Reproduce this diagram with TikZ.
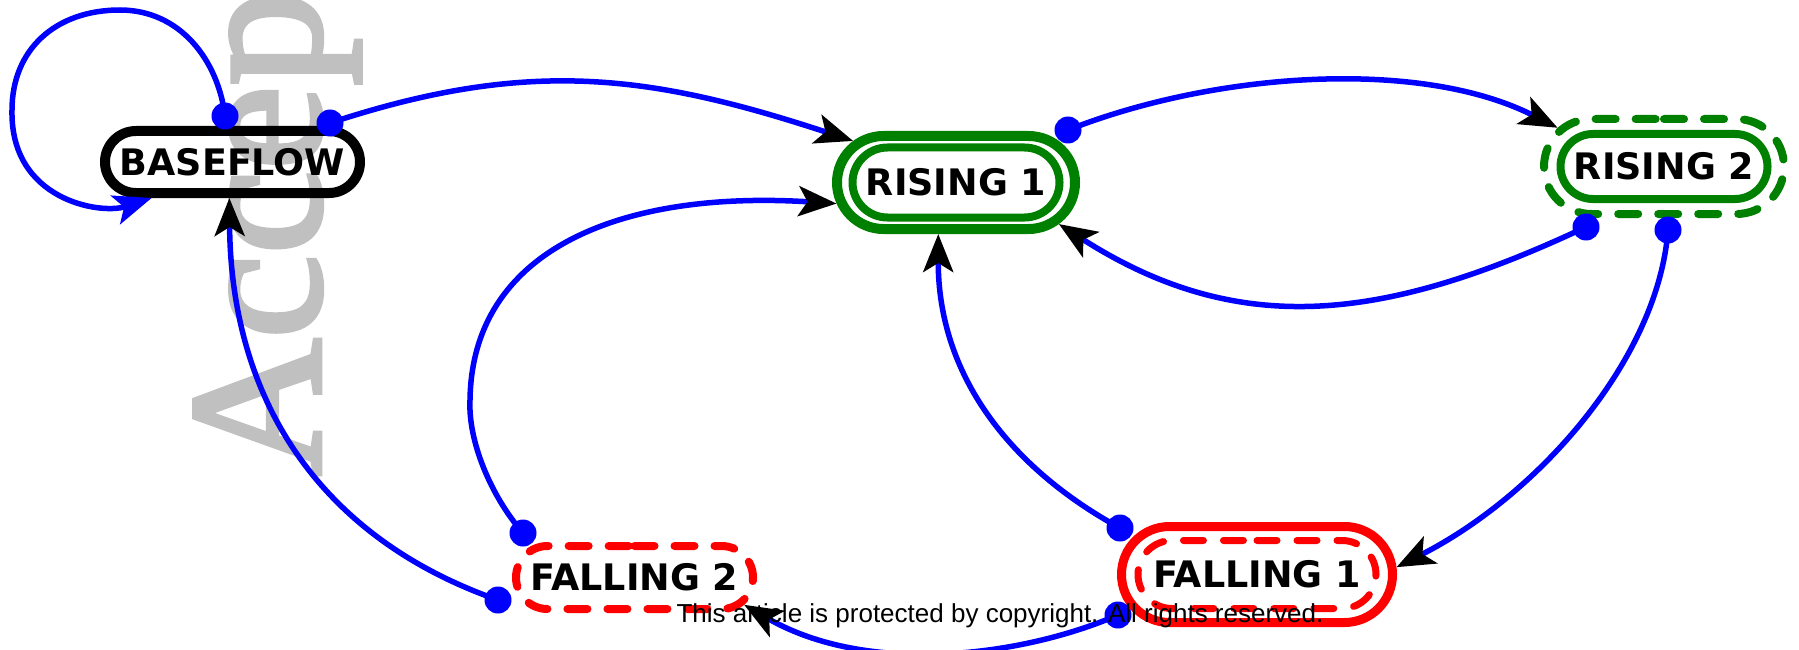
\documentclass[tikz,border=0pt]{standalone}
\usepackage{fontspec}
\usetikzlibrary{shapes.misc,arrows.meta}
\newfontfamily\statefont{DejaVu Sans}
\newfontfamily\notefont{Liberation Sans}
\newfontfamily\markfont[FakeBold=2.5]{Liberation Serif}
\definecolor{stategreen}{RGB}{0,128,0}
\definecolor{markgray}{RGB}{192,192,192}
\begin{document}
\begin{tikzpicture}[x=1pt,y=-1pt,
  state/.style={rounded rectangle, inner sep=0pt,
    font=\statefont\bfseries\fontsize{36.5}{40}\selectfont,
    text height=26.5pt, text depth=0pt},
  ring/.style={rounded rectangle, inner sep=0pt},
  dashring/.style={dash pattern=on 20pt off 20pt, line cap=round},
  tailpt/.style={circle, fill=blue, inner sep=0pt, minimum size=27pt},
  flow/.style={draw=blue, line width=5.5pt,
    -{Stealth[length=38pt,width=30pt,inset=9pt,color=black]}},
  selfflow/.style={draw=blue, line width=5.5pt,
    -{Stealth[length=38pt,width=30pt,inset=9pt]}},
]
\useasboundingbox (0,0) rectangle (1799,650);
\fill[white] (0,0) rectangle (1799,650);
\clip (0,0) rectangle (1799,650);

% watermark behind everything
\node[font=\markfont\fontsize{190}{190}\selectfont, text=markgray,
  rotate=90, anchor=base west, inner sep=0pt] (mark) at (320,476) {Accep};

% states
\node[state, draw, line width=10pt, minimum width=255pt, minimum height=62pt]
  (base) at (232.5,162) {BASEFLOW};

\node[ring, draw=stategreen, line width=10pt, minimum width=238pt, minimum height=93pt]
  (rise1o) at (956,182.5) {};
\node[state, draw=stategreen, line width=8pt, minimum width=207pt, minimum height=70pt]
  (rise1) at (956,182.5) {RISING 1};

\node[ring, dashring, draw=stategreen, line width=8pt, minimum width=240pt, minimum height=95pt]
  (rise2o) at (1664,166.5) {};
\node[state, draw=stategreen, line width=8pt, minimum width=207pt, minimum height=65pt]
  (rise2) at (1664,166.5) {RISING 2};

\node[ring, draw=red, line width=9pt, minimum width=271pt, minimum height=96pt]
  (fall1o) at (1257,574.5) {};
\node[state, dashring, draw=red, line width=7pt, minimum width=238pt, minimum height=68pt]
  (fall1) at (1257,574.5) {FALLING 1};

\node[state, dashring, draw=red, line width=8pt, minimum width=237pt, minimum height=63pt]
  (fall2) at (634.5,577.5) {FALLING 2};

% tail dots
\node[tailpt] (dBa) at (225,116) {};
\node[tailpt] (dBb) at (330,123) {};
\node[tailpt] (dR1) at (1068,130) {};
\node[tailpt] (dR2a) at (1586,227) {};
\node[tailpt] (dR2b) at (1668,230) {};
\node[tailpt] (dF1a) at (1120,528) {};
\node[tailpt] (dF1b) at (1118,615) {};
\node[tailpt] (dF2a) at (523,533) {};
\node[tailpt] (dF2b) at (498,600) {};

% transitions
\draw[selfflow] (dBa.center) .. controls (218,60) and (180,10) .. (120,10)
  .. controls (55,10) and (12,50) .. (12,110)
  .. controls (10,200) and (100,215) .. (base.204);
\draw[flow] (dBb.center) .. controls (530,57) and (652,75) .. (rise1o.158);
\draw[flow] (dR1.center) .. controls (1215,72) and (1420,58) .. (rise2o.160);
\draw[flow] (dR2a.center) .. controls (1386,321) and (1240,340) .. (rise1o.338);
\draw[flow] (dR2b.center) .. controls (1658,360) and (1537,496) .. (fall1o.3.5);
\draw[flow] (dF1a.center) .. controls (1010,468) and (938,375) .. (rise1o.251);
\draw[flow] (dF1b.center) .. controls (1018,658) and (866,675) .. (fall2.346);
\draw[flow] (dF2a.center) .. controls (490,495) and (468,440) .. (470,400)
  .. controls (472,250) and (620,190) .. (rise1o.190);
\draw[flow] (dF2b.center) .. controls (318,537) and (231,398) .. (base.265);

% notice line
\node[font=\notefont\fontsize{26}{30}\selectfont, anchor=base, inner sep=0pt]
  (note) at (1000,622) {This article is protected by copyright. All rights reserved.};
\end{tikzpicture}
\end{document}
